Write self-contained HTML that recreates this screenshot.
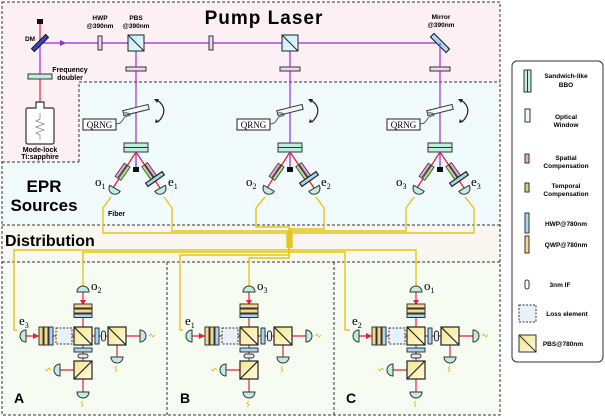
<!DOCTYPE html>
<html><head><meta charset="utf-8"><style>
body{margin:0;background:#fff;}
svg{display:block;font-family:"Liberation Sans",sans-serif;}
.b{font-weight:bold}
.s{font-family:"Liberation Serif",serif}
</style></head><body>
<svg width="605" height="417" viewBox="0 0 605 417" xmlns="http://www.w3.org/2000/svg">
<defs>
<linearGradient id="pb" x1="0" y1="0" x2="1" y2="1"><stop offset="0" stop-color="#bfeefc"/><stop offset="1" stop-color="#e8fbff"/></linearGradient>
<linearGradient id="py" x1="0" y1="0" x2="1" y2="1"><stop offset="0" stop-color="#f3e58a"/><stop offset="1" stop-color="#fffbe0"/></linearGradient>
<g id="src">
 <rect x="-12" y="143" width="24" height="9" fill="#bfeedd" stroke="#333"/>
 <line x1="-12" y1="147.5" x2="12" y2="147.5" stroke="#333"/>
 <line x1="0" y1="152" x2="-23" y2="188" stroke="#e8203a" stroke-width="1.3"/>
 <line x1="0" y1="152" x2="24" y2="188" stroke="#e8203a" stroke-width="1.3"/>
 <line x1="0" y1="152" x2="0" y2="168" stroke="#9b2bd6" stroke-width="1.3"/>
 <rect x="-3" y="167" width="6" height="5" fill="#111"/>
 <g transform="translate(-13,172) rotate(-55)"><rect x="-8" y="-4" width="16" height="3" fill="#f0a0e6" stroke="#333" stroke-width=".8"/><rect x="-8" y="0" width="16" height="3" fill="#a7e67a" stroke="#333" stroke-width=".8"/></g>
 <g transform="translate(12,172) rotate(55)"><rect x="-8" y="-5" width="16" height="3" fill="#f0a0e6" stroke="#333" stroke-width=".8"/><rect x="-8" y="-1" width="16" height="3" fill="#a7e67a" stroke="#333" stroke-width=".8"/></g>
 <g transform="translate(19,179) rotate(-35)"><rect x="-10" y="-2" width="20" height="4" fill="#a6d8f5" stroke="#222" stroke-width="1.2"/></g>
 <g transform="translate(-22,190) rotate(30)"><path d="M-6,-2 A6,6 0 0 0 6,-2 Z" fill="#bfeee0" stroke="#333"/></g>
 <g transform="translate(25,190) rotate(-30)"><path d="M-6,-2 A6,6 0 0 0 6,-2 Z" fill="#bfeee0" stroke="#333"/></g>
 <g transform="translate(0,110) rotate(-14)"><rect x="-13" y="-2.5" width="26" height="5" fill="#eef8f4" stroke="#333"/></g>
 <rect x="-53" y="119" width="33" height="11" fill="#fff" stroke="#222"/>
 <text x="-36.5" y="128" font-size="9" text-anchor="middle" class="s">QRNG</text>
 <path d="M-20,124 C-12,124 -14,116 -8,116 C-4,116 -6,112 -12,113" fill="none" stroke="#333" stroke-width=".8"/>
 <path d="M21,100 C30,106 30,114 22,122" fill="none" stroke="#222" stroke-width="1.2"/>
 <path d="M18,99 l5,0 l-2,4z M19,123 l4,-1 l-3,-3z" fill="#222"/>
</g>
<g id="dist">
 <line x1="0" y1="-45" x2="0" y2="58" stroke="#e8203a" stroke-width="1.2"/>
 <line x1="-60" y1="0" x2="60" y2="0" stroke="#e8203a" stroke-width="1.2"/>
 <line x1="34" y1="0" x2="34" y2="22" stroke="#e8203a" stroke-width="1.2"/>
 <line x1="-26" y1="34" x2="0" y2="34" stroke="#e8203a" stroke-width="1.2"/>
 <path d="M-3,-36 l6,0 l-3,5z M-50,-3 l0,6 l6,-3z" fill="#e8203a"/>
 <rect x="-9" y="-32" width="18" height="4" fill="#f5d98a" stroke="#333"/>
 <rect x="-9" y="-27" width="18" height="4" fill="#f5d98a" stroke="#333"/>
 <rect x="-9" y="-22" width="18" height="3.5" fill="#a6d8f5" stroke="#333"/>
 <rect x="-44" y="-9" width="4" height="18" fill="#f5d98a" stroke="#333"/>
 <rect x="-39" y="-9" width="4" height="18" fill="#f5d98a" stroke="#333"/>
 <rect x="-34" y="-9" width="4" height="18" fill="#a6d8f5" stroke="#333"/>
 <rect x="-27" y="-8" width="16" height="16" fill="#e8f0fa" stroke="#333" stroke-dasharray="2,1.5"/>
 <rect x="-9" y="-9" width="18" height="18" fill="url(#py)" stroke="#222" stroke-width="1.2"/><line x1="-9" y1="-9" x2="9" y2="9" stroke="#222" stroke-width="1.2"/>
 <rect x="12" y="-8" width="4" height="16" fill="#a6d8f5" stroke="#333"/>
 <rect x="18.5" y="-5" width="4" height="10" rx="2" fill="#d8ecf8" stroke="#333"/>
 <rect x="25" y="-9" width="18" height="18" fill="url(#py)" stroke="#222" stroke-width="1.2"/><line x1="25" y1="-9" x2="43" y2="9" stroke="#222" stroke-width="1.2"/>
 <rect x="-9" y="12" width="18" height="4" fill="#a6d8f5" stroke="#333"/>
 <rect x="-5" y="18" width="10" height="4" rx="2" fill="#d8ecf8" stroke="#333"/>
 <rect x="-9" y="25" width="18" height="18" fill="url(#py)" stroke="#222" stroke-width="1.2"/><line x1="9" y1="25" x2="-9" y2="43" stroke="#222" stroke-width="1.2"/>
 <g transform="translate(0,-47)"><path d="M-6,3 A6,6 0 0 1 6,3 Z" fill="#bfeee0" stroke="#333"/></g>
 <g transform="translate(-60,0) rotate(-90)"><path d="M-6,3 A6,6 0 0 1 6,3 Z" fill="#bfeee0" stroke="#333"/></g>
 <g transform="translate(60,0) rotate(90)"><path d="M-6,3 A6,6 0 0 1 6,3 Z" fill="#bfeee0" stroke="#333"/></g>
 <g transform="translate(34,24) rotate(180)"><path d="M-6,3 A6,6 0 0 1 6,3 Z" fill="#bfeee0" stroke="#333"/></g>
 <g transform="translate(-26,34) rotate(-90)"><path d="M-6,3 A6,6 0 0 1 6,3 Z" fill="#bfeee0" stroke="#333"/></g>
 <g transform="translate(0,59) rotate(180)"><path d="M-6,3 A6,6 0 0 1 6,3 Z" fill="#bfeee0" stroke="#333"/></g>
 <path d="M66,0 l2,-2 l2,3 l2,-2 M34,30 l-2,2 l2,2 l-2,2 M-32,34 l-2,-2 l-2,3 l-2,-2 M0,65 l-2,2 l2,2 l-2,2" fill="none" stroke="#d8b800" stroke-width=".8"/>
</g>
</defs>
<path d="M2,2 H500 V82 H79 V162 H2 Z" fill="#fcf0f4"/>
<path d="M79,82 H500 V225 H2 V162 H79 Z" fill="#f2fbfc"/>
<rect x="2" y="225" width="498" height="37" fill="#faf7f0"/>
<rect x="2" y="262" width="498" height="153" fill="#f7fcf2"/>
<g fill="none" stroke="#333" stroke-dasharray="3,2" stroke-width="1">
<path d="M2,2 H500 V415 H2 Z"/>
<path d="M79,162 V82 H500 M2,162 H79"/>
<line x1="2" y1="225" x2="500" y2="225"/>
<line x1="2" y1="262" x2="500" y2="262"/>
<line x1="167" y1="262" x2="167" y2="415"/>
<line x1="334" y1="262" x2="334" y2="415"/>
</g>
<text x="264" y="24" font-size="19" letter-spacing="1" class="b" text-anchor="middle">Pump Laser</text>
<text x="44" y="192" font-size="17" class="b" text-anchor="middle">EPR</text>
<text x="44" y="211" font-size="17" class="b" text-anchor="middle">Sources</text>
<text x="5" y="246" font-size="16" class="b">Distribution</text>
<text x="14" y="403" font-size="14" class="b">A</text>
<text x="180" y="403" font-size="14" class="b">B</text>
<text x="346" y="403" font-size="14" class="b">C</text>
<line x1="40" y1="24" x2="40" y2="40" stroke="#e8203a" stroke-width="1.2"/>
<rect x="37" y="19" width="6" height="5" fill="#111"/>
<line x1="40" y1="78" x2="40" y2="105" stroke="#e8203a" stroke-width="1.2"/>
<line x1="40" y1="43" x2="40" y2="78" stroke="#9b2bd6" stroke-width="1.2"/>
<line x1="40" y1="43" x2="440" y2="43" stroke="#9b2bd6" stroke-width="1.2"/>
<path d="M60,40 l6,3 l-6,3z" fill="#9b2bd6"/>
<g transform="translate(40,43) rotate(-45)"><rect x="-10" y="-2" width="20" height="4" fill="#3a46c8" stroke="#111"/></g>
<text x="30" y="41" font-size="6.5" class="b" text-anchor="middle">DM</text>
<rect x="28" y="74" width="24" height="5" fill="#bfeedd" stroke="#333"/>
<text x="70" y="72" font-size="7" class="b" text-anchor="middle">Frequency</text>
<text x="70" y="80" font-size="7" class="b" text-anchor="middle">doubler</text>
<path d="M28,108 H36 V102 H44 V108 H52 Q54,108 54,110 V142 Q54,144 52,144 H28 Q26,144 26,142 V110 Q26,108 28,108 Z" fill="#fff" stroke="#333" stroke-width="1.2"/>
<path d="M40,113 V119 L36,121 L44,124 L36,127 L44,130 L36,133 L40,135 V140" fill="none" stroke="#888" stroke-width=".8"/>
<text x="40" y="152" font-size="7" class="b" text-anchor="middle">Mode-lock</text>
<text x="40" y="159" font-size="7" class="b" text-anchor="middle">Ti:sapphire</text>
<rect x="98" y="36" width="4" height="14" fill="#e8d8f0" stroke="#333"/>
<text x="100" y="20" font-size="6.5" class="b" text-anchor="middle">HWP</text>
<text x="100" y="28" font-size="6.5" class="b" text-anchor="middle">@390nm</text>
<text x="136" y="20" font-size="6.5" class="b" text-anchor="middle">PBS</text>
<text x="136" y="28" font-size="6.5" class="b" text-anchor="middle">@390nm</text>
<rect x="209" y="36" width="4" height="14" fill="#e8d8f0" stroke="#333"/>
<text x="441" y="19" font-size="6.5" class="b" text-anchor="middle">Mirror</text>
<text x="441" y="27" font-size="6.5" class="b" text-anchor="middle">@390nm</text>
<g transform="translate(440,43) rotate(45)"><rect x="-11" y="-2.5" width="22" height="5" fill="#a6d8f5" stroke="#111"/></g>
<g stroke="#9b2bd6" stroke-width="1.2"><line x1="136" y1="43" x2="136" y2="143"/><line x1="290" y1="43" x2="290" y2="143"/><line x1="440" y1="43" x2="440" y2="143"/></g>
<g stroke="#222" stroke-width="1">
<rect x="128" y="35" width="16" height="16" fill="url(#pb)"/><line x1="128" y1="35" x2="144" y2="51"/>
<rect x="282" y="35" width="16" height="16" fill="url(#pb)"/><line x1="282" y1="35" x2="298" y2="51"/>
</g>
<rect x="126" y="67" width="20" height="4" fill="#e8d8f0" stroke="#333"/>
<rect x="280" y="67" width="20" height="4" fill="#e8d8f0" stroke="#333"/>
<rect x="430" y="67" width="20" height="4" fill="#e8d8f0" stroke="#333"/>
<g fill="none" stroke="#e6c619" stroke-width="1.4">
<path d="M111,197 L103,208 V233 H287 V248"/>
<path d="M164,197 L172,208 V231 H288 V248"/>
<path d="M265,197 L256,208 V227 H289 V248"/>
<path d="M316,197 L324,208 V229 H290 V248"/>
<path d="M414,197 L406,208 V231 H291 V248"/>
<path d="M465,197 L474,208 V233 H292 V248"/>
<path d="M289,246 V250 H14 V330 H17"/>
<path d="M289,246 V252 H83 V286"/>
<path d="M289,246 V255 H180 V330 H183"/>
<path d="M289,246 V258 H249 V286"/>
<path d="M289,246 V252 H345 V330 H350"/>
<path d="M289,246 V250 H416 V286"/>
</g>
<text x="108" y="216" font-size="7" class="b">Fiber</text>
<use href="#src" x="136"/><use href="#src" x="290"/><use href="#src" x="440"/>
<g class="s" font-size="13">
<text x="95" y="186">o<tspan font-size="8" dy="3">1</tspan></text>
<text x="168" y="186">e<tspan font-size="8" dy="3">1</tspan></text>
<text x="246" y="186">o<tspan font-size="8" dy="3">2</tspan></text>
<text x="321" y="186">e<tspan font-size="8" dy="3">2</tspan></text>
<text x="396" y="186">o<tspan font-size="8" dy="3">3</tspan></text>
<text x="471" y="186">e<tspan font-size="8" dy="3">3</tspan></text>
</g>
<use href="#dist" x="83" y="336"/><use href="#dist" x="249" y="336"/><use href="#dist" x="416" y="336"/>
<g class="s" font-size="13">
<text x="91" y="290">o<tspan font-size="8" dy="3">2</tspan></text>
<text x="19" y="325">e<tspan font-size="8" dy="3">3</tspan></text>
<text x="257" y="290">o<tspan font-size="8" dy="3">3</tspan></text>
<text x="185" y="325">e<tspan font-size="8" dy="3">1</tspan></text>
<text x="424" y="290">o<tspan font-size="8" dy="3">1</tspan></text>
<text x="352" y="325">e<tspan font-size="8" dy="3">2</tspan></text>
</g>
<rect x="512" y="61" width="91" height="301" rx="5" fill="#fff" stroke="#333"/>
<g stroke="#333" stroke-width="1">
<rect x="524" y="70" width="7" height="22" fill="#bfeedd"/><line x1="527.5" y1="70" x2="527.5" y2="92"/>
<rect x="525" y="109" width="5" height="13" fill="#eef8f4"/>
<rect x="525" y="154" width="4" height="9" fill="#f0a0e6"/>
<rect x="525" y="183" width="4" height="9" fill="#a7e67a"/>
<rect x="525" y="213" width="4" height="20" fill="#a6d8f5"/>
<rect x="525" y="236" width="4" height="17" fill="#f5d98a"/>
<rect x="525" y="280" width="4" height="9" rx="2" fill="#fff"/>
<rect x="519" y="305" width="17" height="17" fill="#e8f0fa" stroke-dasharray="2,1.5"/>
<rect x="519" y="335" width="17" height="17" fill="url(#py)"/><line x1="519" y1="335" x2="536" y2="352"/>
</g>
<g font-size="6.5" class="b" text-anchor="middle">
<text x="566" y="78">Sandwich-like</text><text x="566" y="87">BBO</text>
<text x="566" y="119">Optical</text><text x="566" y="127">Window</text>
<text x="566" y="160">Spatial</text><text x="566" y="168">Compensation</text>
<text x="566" y="188">Temporal</text><text x="566" y="196">Compensation</text>
<text x="566" y="226">HWP@780nm</text>
<text x="566" y="247">QWP@780nm</text>
<text x="560" y="287">3nm IF</text>
<text x="567" y="316">Loss element</text>
<text x="563" y="346">PBS@780nm</text>
</g>
</svg>
</body></html>
